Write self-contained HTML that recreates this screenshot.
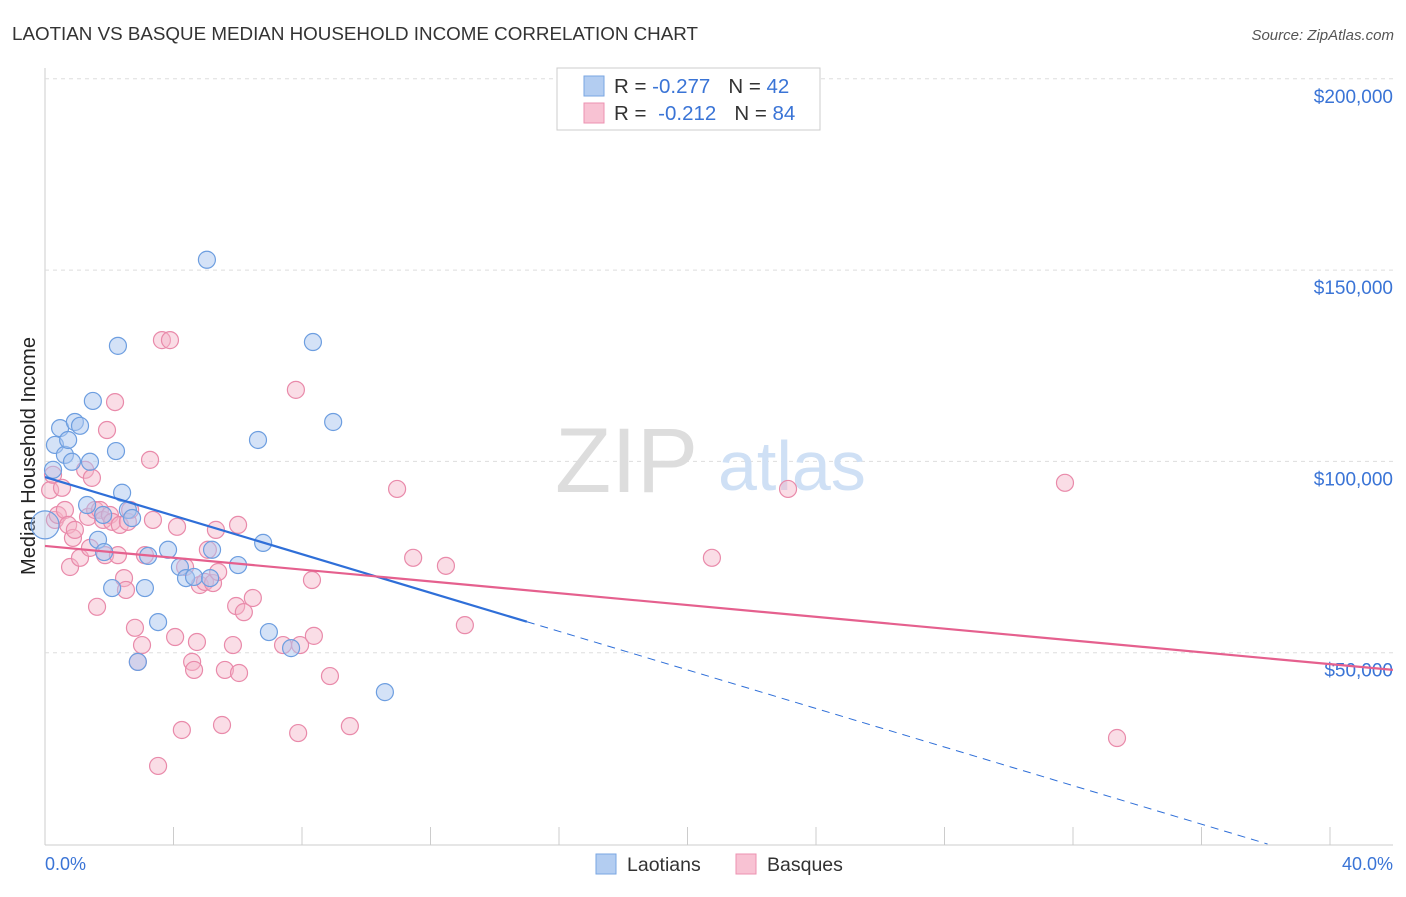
<!DOCTYPE html>
<html><head><meta charset="utf-8"><style>
body{margin:0;background:#fff;font-family:"Liberation Sans",sans-serif;}
svg text{font-family:"Liberation Sans",sans-serif;}
</style></head><body>
<svg id="chart" width="1406" height="892" xmlns="http://www.w3.org/2000/svg">
<text x="12" y="40" font-size="18.8" fill="#333">LAOTIAN VS BASQUE MEDIAN HOUSEHOLD INCOME CORRELATION CHART</text>
<text x="1394" y="40" font-size="15" fill="#555" font-style="italic" text-anchor="end">Source: ZipAtlas.com</text>
<text x="35" y="456" font-size="20" fill="#222" text-anchor="middle" transform="rotate(-90 35 456)">Median Household Income</text>
<g id="grid"></g>
<g><text x="555" y="492" font-size="92" fill="#ddd" font-family="Liberation Serif">ZIP</text><text x="718" y="490" font-size="70" fill="#cfe0f5">atlas</text></g>
<g id="pts"></g>
<g id="trends"></g>
<g>
<rect x="557" y="68" width="263" height="62" fill="#fff" stroke="#ccc"/>
<rect x="584" y="76" width="20" height="20" fill="#b3cdf1" stroke="#7aa6e2"/>
<rect x="584" y="103" width="20" height="20" fill="#f8c2d3" stroke="#ec92b0"/>
<text x="614" y="93" font-size="20.5" fill="#333">R = <tspan fill="#3a74d6">-0.277</tspan><tspan dx="18">N = </tspan><tspan fill="#3a74d6">42</tspan></text>
<text x="614" y="120" font-size="20.5" fill="#333">R = <tspan fill="#3a74d6" dx="6">-0.212</tspan><tspan dx="18">N = </tspan><tspan fill="#3a74d6">84</tspan></text>
</g>
<g>
<rect x="596" y="854" width="20" height="20" fill="#b3cdf1" stroke="#7aa6e2"/>
<text x="627" y="871" font-size="19.5" fill="#333">Laotians</text>
<rect x="736" y="854" width="20" height="20" fill="#f8c2d3" stroke="#ec92b0"/>
<text x="767" y="871" font-size="19.5" fill="#333">Basques</text>
</g>
<text x="45" y="870" font-size="18" fill="#3a74d6">0.0%</text>
<text x="1393" y="870" font-size="18" fill="#3a74d6" text-anchor="end">40.0%</text>
</svg>
<script>
const yTicks=[50000,100000,150000,200000];
const yTickLabels=["$50,000","$100,000","$150,000","$200,000"];
const blueX=[0.25,0.31,0.47,0.62,0.72,0.93,1.09,0.84,1.40,1.49,1.31,2.21,2.27,2.40,1.65,1.84,2.09,1.81,2.58,2.71,3.11,3.21,3.52,2.89,3.83,4.20,4.39,4.64,5.04,5.20,5.14,6.01,6.63,6.79,6.97,7.66,8.34,8.97,10.58,0];
const blueY=[97.8,104.3,108.7,101.7,105.6,110.3,109.3,99.9,99.9,115.8,88.6,102.7,130.2,91.8,79.5,76.3,66.9,86.0,87.3,85.2,66.9,75.3,58.0,47.6,76.9,72.4,69.5,69.8,152.7,76.9,69.5,72.9,105.6,78.7,55.4,51.2,131.2,110.3,39.7,83.4];
const pinkX=[0.16,0.25,0.31,0.40,0.53,0.62,0.72,0.78,0.87,0.93,1.09,1.25,1.34,1.40,1.46,1.56,1.62,1.71,1.81,1.87,1.93,2.02,2.09,2.18,2.27,2.33,2.46,2.52,2.58,2.65,2.80,3.02,3.11,3.27,3.36,3.52,3.64,3.89,4.05,4.11,4.26,4.36,4.58,4.64,4.73,4.82,4.98,5.07,5.23,5.32,5.39,5.51,5.60,5.85,5.95,6.01,6.04,6.19,6.47,7.41,7.81,7.88,7.94,8.31,8.37,8.87,9.49,10.96,11.46,12.48,13.07,20.76,23.13,31.75,33.37,2.89];
const pinkY=[92.5,96.5,84.7,86.0,93.1,87.3,83.4,72.4,80.0,82.1,74.8,97.8,85.5,77.4,95.7,87.3,62.0,87.3,84.7,75.5,108.2,86.0,84.2,115.5,75.5,83.4,69.5,66.4,84.2,87.3,56.5,52.0,75.5,100.4,84.7,20.4,131.7,131.7,54.1,82.9,29.8,72.4,47.6,45.5,52.8,67.7,68.5,76.9,68.2,82.1,71.1,31.1,45.5,52.0,62.2,83.4,44.7,60.6,64.3,52.0,118.7,29.0,52.0,69.0,54.4,43.9,30.8,92.8,74.8,72.7,57.2,74.8,92.8,94.4,27.7,47.6];
const blueTrend=[95.9,-2.52];
const pinkTrend=[77.9,-0.772];
const X0=45,X1=1330,Y0=844,YPER=191.3/50000;
const xs=v=>X0+v/40*(X1-X0);
const ys=v=>Y0-v*YPER;
const NS="http://www.w3.org/2000/svg";
function mk(t,a,p){const e=document.createElementNS(NS,t);for(const k in a)e.setAttribute(k,a[k]);p.appendChild(e);return e;}
const grid=document.getElementById('grid');
let l=mk('line',{x1:45,y1:68,x2:45,y2:845,stroke:'#ccc'},grid);


l=mk('line',{x1:45,y1:845,x2:1393,y2:845,stroke:'#ccc'},grid);


for(let i=0;i<=10;i++){const t=mk('line',{x1:xs(i*4),y1:827,x2:xs(i*4),y2:845,stroke:'#ccc'},grid);

}
yTicks.forEach((v,i)=>{const g=mk('line',{x1:45,x2:1393,y1:ys(v),y2:ys(v),stroke:'#ddd','stroke-dasharray':'4,4'},grid);


const t=mk('text',{x:1393,y:ys(v)+24,'font-size':19,fill:'#3a74d6','text-anchor':'end'},grid);t.textContent=yTickLabels[i];

});
const pts=document.getElementById('pts');
pinkX.forEach((x,i)=>{const c=mk('circle',{cx:xs(x),cy:ys(pinkY[i]*1000),r:8.5,fill:'#f4b3c8','fill-opacity':0.45,stroke:'#e98aaa','stroke-width':1.2},pts);

});
blueX.forEach((x,i)=>{const last=i==blueX.length-1;const c=mk('circle',{cx:xs(x),cy:ys(blueY[i]*1000),r:last?14:8.5,fill:'#a9c6ef','fill-opacity':last?0.35:0.5,stroke:'#6d9ee0','stroke-width':1.2},pts);

});
const tr=document.getElementById('trends');
const bf=x=>(blueTrend[0]+blueTrend[1]*x)*1000, pf=x=>(pinkTrend[0]+pinkTrend[1]*x)*1000;
const xEnd=-blueTrend[0]/blueTrend[1];
l=mk('line',{x1:xs(0),y1:ys(bf(0)),x2:xs(15),y2:ys(bf(15)),stroke:'#2f6fd8','stroke-width':2.2},tr);


l=mk('line',{x1:xs(15),y1:ys(bf(15)),x2:xs(xEnd),y2:ys(0),stroke:'#2f6fd8','stroke-width':1,'stroke-dasharray':'8,6'},tr);


l=mk('line',{x1:xs(0),y1:ys(pf(0)),x2:xs(41.96),y2:ys(pf(41.96)),stroke:'#e5608e','stroke-width':2.2},tr);


</script>
</body></html>
